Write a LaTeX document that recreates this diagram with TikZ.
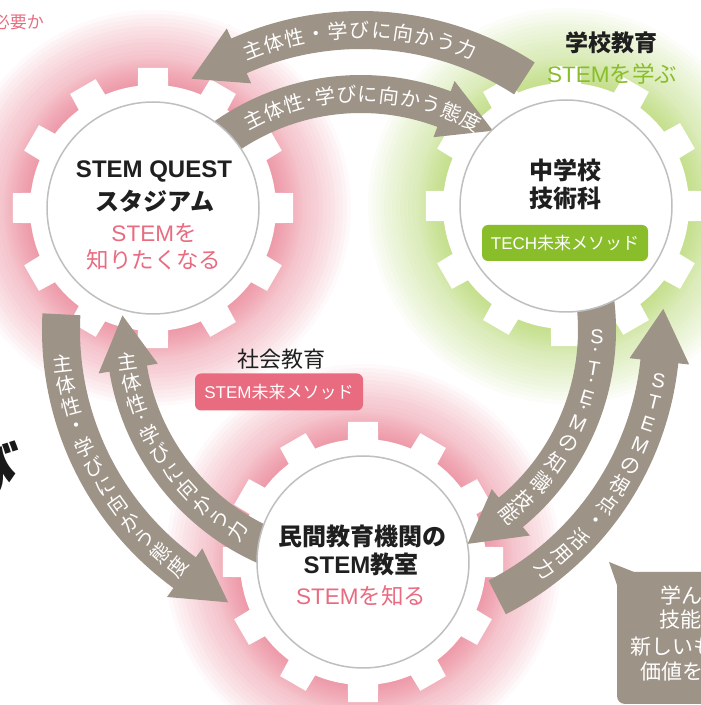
\documentclass[tikz,border=0pt]{standalone}
\usepackage{fontspec}
\setmainfont{Noto Sans CJK JP}
\newfontfamily\lat{Liberation Sans}
\usetikzlibrary{calc}
\definecolor{arrowgray}{RGB}{158,147,135}
\definecolor{stempink}{RGB}{233,107,128}
\definecolor{stemgreen}{RGB}{137,189,42}
\definecolor{pinkglow}{RGB}{226,88,112}
\definecolor{greenglow}{RGB}{158,202,66}
\pgfdeclareradialshading{discshade}{\pgfpoint{0bp}{0bp}}{color(0bp)=(white); color(30bp)=(white); color(46bp)=(black!7); color(50bp)=(black!14)}
\def\glow[#1](#2){\foreach \gr in {120,122,...,150,154,158,...,198}{\fill[#1, opacity=0.035] (#2) circle (\gr pt);}}
\def\gearbody(#1){\fill[white] (#1) circle (123pt);
	\foreach \toothA in {0,30,...,330}{\fill[white, shift={(#1)}] ({\toothA-7.5}:118pt) -- ({\toothA-6}:141pt) -- ({\toothA+6}:141pt) -- ({\toothA+7.5}:118pt) -- cycle;}}
\def\bandarrow(#1)(#2:#3:#4){%
	\pgfmathsetlengthmacro\bandout{#1pt+19pt}\pgfmathsetlengthmacro\bandin{#1pt-19pt}%
	\pgfmathsetlengthmacro\headout{#1pt+30pt}\pgfmathsetlengthmacro\headin{#1pt-30pt}%
	\pgfmathsetlengthmacro\headtip{#1pt+3pt}%
	\fill[arrowgray] (#2:\bandout) arc[start angle=#2, end angle=#3, radius=\bandout] -- (#3:\headout) -- (#4:\headtip) -- (#3:\headin) -- (#3:\bandin) arc[start angle=#3, end angle=#2, radius=\bandin] -- cycle;}
\def\arcword[#1](#2:#3:#4:#5:#6)#7{\foreach \arcP/\arcC [count=\i] in {#7}{%
	\pgfmathsetmacro\arcA{#4+\arcP*(#5)}\pgfmathsetmacro\arcR{\arcA+(#6)}%
	\node[#1, rotate=\arcR] (#2-\i) at (\arcA:#3pt) {\arcC};}}

\begin{document}
\begin{tikzpicture}[x=1pt,y=1pt,
	vertlabel/.style={text=white, inner sep=0pt, font=\fontsize{20}{20}\selectfont},
	arclabel/.style={vertlabel, text height=16.6pt, text depth=1.4pt},
	titletext/.style={inner sep=0pt, text=black!88, font=\fontsize{24}{24}\selectfont\bfseries},
	pinktext/.style={inner sep=0pt, text=stempink, font=\fontsize{22.5}{22.5}\selectfont},
	methodbox/.style={rounded corners=6pt, text=white, font=\fontsize{17}{17}\selectfont, minimum width=166pt, minimum height=36pt, inner sep=0pt},
	callouttext/.style={inner sep=0pt, anchor=west, text=white, font=\fontsize{21}{21}\selectfont}]
	%%%%% START %%%%%
	\useasboundingbox (0,0) rectangle (701,705);
	\clip (0,0) rectangle (701,705);
	\coordinate (hub) at (361,375);
	\coordinate (quest) at (153,497);
	\coordinate (tech) at (566,499);
	\coordinate (lab) at (363,143);
	
	\glow[pinkglow](quest)
	\glow[greenglow](tech)
	\glow[pinkglow](lab)
	\gearbody(quest)
	\gearbody(tech)
	\gearbody(lab)
	
	\begin{scope}[shift={(hub)}]
		\bandarrow(300)(57:114:124)
		\bandarrow(300)(177:234:244)
		\bandarrow(300)(297:354:364)
		\bandarrow(236)(128:69.4:56.5)
		\bandarrow(236)(248:189.4:176.5)
		\bandarrow(236)(8:-50.6:-63.5)
	\end{scope}
	
	\foreach \g in {quest,tech,lab}{
		\shade[shading=discshade] (\g) circle (106pt);
		\draw[black!25, line width=1.5pt] (\g) circle (106pt);
	}
	
	\begin{scope}[shift={(hub)}]
		\arcword[arclabel](to:300:111.1:-4.18:-90){0/主,1/体,2/性,3/・,4/学,5/び,6/に,7/向,8/か,9/う,10/力}
		\arcword[arclabel](ti:236:116.9:-5.2:-90){0/主,1/体,2/性,2.75/·,3.5/学,4.5/び,5.5/に,6.5/向,7.5/か,8.5/う,9.5/態,10.5/度}
		\arcword[vertlabel](lo:300:186.5:4.16:-180){0/主,1/体,2/性,3/・,4/学,5/び,6/に,7/向,8/か,9/う,10/態,11/度}
		\arcword[vertlabel](li:236:187.7:5.34:-180){0/主,1/体,2/性,2.75/·,3.5/学,4.5/び,5.5/に,6.5/向,7.5/か,8.5/う,9.5/力}
		\arcword[vertlabel](ri:236:-1.7:-1:0){0/{\lat S},3.85/·,7.7/{\lat T},11.4/·,15.1/{\lat E},18.3/·,21.5/{\lat M},26.9/の,32.7/知,38.3/識,41.5/·,44.7/技,49.3/能}
		\arcword[vertlabel](ro:302:-9.65:-4.27:0){0/{\lat S},1/{\lat T},2/{\lat E},3/{\lat M},4/の,5/視,6/点,7/・,8/活,9/用,10/力}
	\end{scope}
	
	% gear labels
	\node[titletext] (questname) at (154,534) {\lat STEM QUEST};
	\node[titletext] (questkana) at (155,504) {スタジアム};
	\node[pinktext] (questaim) at (154,472) {{\lat STEM}を};
	\node[pinktext] (questaim2) at (154,445) {知りたくなる};
	
	\node[titletext] (techname) at (565,535) {中学校};
	\node[titletext] (techname2) at (565,507) {技術科};
	\node[methodbox, fill=stemgreen] (techbox) at (565,462) {{\lat TECH}未来メソッド};
	\node[titletext, font=\fontsize{23}{23}\selectfont\bfseries] (school) at (611,662) {学校教育};
	\node[pinktext, text=stemgreen] (schoolaim) at (612,631) {{\lat STEM}を学ぶ};
	
	\node[titletext] (labname) at (362,169) {民間教育機関の};
	\node[titletext] (labname2) at (361,141) {{\lat STEM}教室};
	\node[pinktext] (labaim) at (361,109) {{\lat STEM}を知る};
	\node[inner sep=0pt, text=black!88, font=\fontsize{22}{22}\selectfont] (social) at (281,346) {社会教育};
	\node[methodbox, fill=stempink, minimum width=168pt, minimum height=37pt] (socialbox) at (279,313) {{\lat STEM}未来メソッド};
	
	% cut-off texts at the edges
	\node[inner sep=0pt, anchor=east, text=stempink, font=\fontsize{17}{17}\selectfont] (need) at (44,683) {必要か};
	\node[inner sep=0pt, anchor=base east, text=black!90, font=\fontsize{64}{64}\selectfont\bfseries] (bigword) at (20,209) {び};
	
	% callout
	\fill[arrowgray, rounded corners=8pt] (617,133) rectangle (740,1);
	\fill[arrowgray] (609,143) -- (634,133) -- (617,120) -- cycle;
	\node[callouttext] (call1) at (660,110) {学ん};
	\node[callouttext] (call2) at (659,85) {技能};
	\node[callouttext] (call3) at (630,58) {新しいも};
	\node[callouttext] (call4) at (640,33) {価値を};
	%%%%% END %%%%%
\end{tikzpicture}
\end{document}
